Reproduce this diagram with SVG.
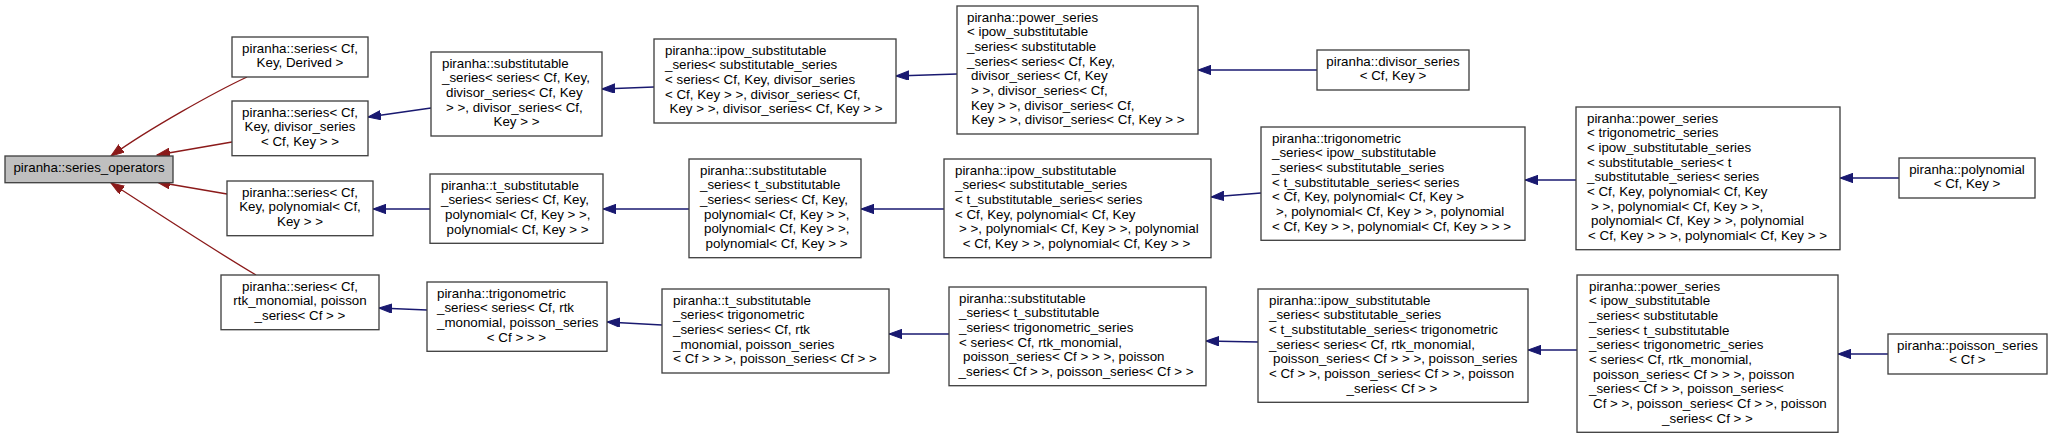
<svg xmlns="http://www.w3.org/2000/svg" width="2052" height="439" viewBox="0 0 2052 439">
<style>
rect.n{fill:#ffffff;stroke:#404040;stroke-width:1.33}
rect.g{fill:#bfbfbf;stroke:#404040;stroke-width:1.33}
text{font-family:"Liberation Sans",Arial,sans-serif;font-size:13.33px;fill:#000}
.c{text-anchor:middle}
.l{text-anchor:start}
path.r{fill:none;stroke:#8b1a1a;stroke-width:1.33}
path.b{fill:none;stroke:#191970;stroke-width:1.33}
</style>
<defs>
<marker id="ar" markerUnits="userSpaceOnUse" markerWidth="14" markerHeight="10" refX="13" refY="4.67" orient="auto"><path d="M0,0 L13,4.67 L0,9.33 Z" fill="#8b1a1a" stroke="#8b1a1a" stroke-width="1"/></marker>
<marker id="ab" markerUnits="userSpaceOnUse" markerWidth="14" markerHeight="10" refX="13" refY="4.67" orient="auto"><path d="M0,0 L13,4.67 L0,9.33 Z" fill="#191970" stroke="#191970" stroke-width="1"/></marker>
</defs>
<g id="edges">
<path class="r" marker-end="url(#ar)" d="M247,77 C215,92 150,128 111,156"/>
<path class="r" marker-end="url(#ar)" d="M232,142 L157,155"/>
<path class="r" marker-end="url(#ar)" d="M227,194 L157,182"/>
<path class="r" marker-end="url(#ar)" d="M256,275 C212,249 150,208 111,183"/>
<path class="b" marker-end="url(#ab)" d="M431,108 L368,117"/>
<path class="b" marker-end="url(#ab)" d="M654,87 L602,89"/>
<path class="b" marker-end="url(#ab)" d="M957,74 L896,76"/>
<path class="b" marker-end="url(#ab)" d="M1317,70 L1198,70"/>
<path class="b" marker-end="url(#ab)" d="M430,209 L373,209"/>
<path class="b" marker-end="url(#ab)" d="M689,209 L603,209"/>
<path class="b" marker-end="url(#ab)" d="M944,209 L861,209"/>
<path class="b" marker-end="url(#ab)" d="M1261,193 L1211,197"/>
<path class="b" marker-end="url(#ab)" d="M1576,180 L1525,180"/>
<path class="b" marker-end="url(#ab)" d="M1899,178 L1840,178"/>
<path class="b" marker-end="url(#ab)" d="M427,310 L379,308"/>
<path class="b" marker-end="url(#ab)" d="M662,325 L607,322"/>
<path class="b" marker-end="url(#ab)" d="M949,334 L889,334"/>
<path class="b" marker-end="url(#ab)" d="M1258,342 L1206,341"/>
<path class="b" marker-end="url(#ab)" d="M1577,350 L1528,350"/>
<path class="b" marker-end="url(#ab)" d="M1888,354 L1838,354"/>
</g>
<g id="series_operators">
<rect class="g" x="5" y="156" width="168" height="26.7"/>
<text class="c" x="89" y="171.7">piranha::series_operators</text>
</g>
<g id="series_derived">
<rect class="n" x="232" y="37" width="136" height="40"/>
<text class="c"><tspan x="300" y="52.7">piranha::series&lt; Cf,</tspan><tspan x="300" y="67.4">Key, Derived &gt;</tspan></text>
</g>
<g id="series_divisor">
<rect class="n" x="232" y="101" width="136" height="54.7"/>
<text class="c"><tspan x="300" y="116.7">piranha::series&lt; Cf,</tspan><tspan x="300" y="131.4">Key, divisor_series</tspan><tspan x="300" y="146">&lt; Cf, Key &gt; &gt;</tspan></text>
</g>
<g id="series_polynomial">
<rect class="n" x="227" y="181" width="146" height="54.7"/>
<text class="c"><tspan x="300" y="196.7">piranha::series&lt; Cf,</tspan><tspan x="300" y="211.4">Key, polynomial&lt; Cf,</tspan><tspan x="300" y="226">Key &gt; &gt;</tspan></text>
</g>
<g id="series_rtk">
<rect class="n" x="221" y="275" width="158" height="54.7"/>
<text class="c"><tspan x="300" y="290.7">piranha::series&lt; Cf,</tspan><tspan x="300" y="305.4">rtk_monomial, poisson</tspan><tspan x="300" y="320">_series&lt; Cf &gt; &gt;</tspan></text>
</g>
<g id="subst_divisor">
<rect class="n" x="431" y="52" width="171" height="84"/>
<text class="l"><tspan x="442" y="67.7">piranha::substitutable</tspan><tspan x="442" y="82.4">_series&lt; series&lt; Cf, Key,</tspan><tspan x="446" y="97">divisor_series&lt; Cf, Key</tspan><tspan x="446" y="111.7">&gt; &gt;, divisor_series&lt; Cf,</tspan></text>
<text class="c" x="516.5" y="126.4">Key &gt; &gt;</text>
</g>
<g id="ipow_divisor">
<rect class="n" x="654" y="39" width="242" height="84"/>
<text class="l"><tspan x="665" y="54.7">piranha::ipow_substitutable</tspan><tspan x="665" y="69.4">_series&lt; substitutable_series</tspan><tspan x="665" y="84">&lt; series&lt; Cf, Key, divisor_series</tspan><tspan x="665" y="98.7">&lt; Cf, Key &gt; &gt;, divisor_series&lt; Cf,</tspan></text>
<text class="c" x="776" y="113.4">Key &gt; &gt;, divisor_series&lt; Cf, Key &gt; &gt;</text>
</g>
<g id="power_divisor">
<rect class="n" x="957" y="6" width="241" height="128"/>
<text class="l"><tspan x="967" y="21.7">piranha::power_series</tspan><tspan x="967" y="36.4">&lt; ipow_substitutable</tspan><tspan x="967" y="51">_series&lt; substitutable</tspan><tspan x="967" y="65.7">_series&lt; series&lt; Cf, Key,</tspan><tspan x="971" y="80.4">divisor_series&lt; Cf, Key</tspan><tspan x="971" y="95">&gt; &gt;, divisor_series&lt; Cf,</tspan><tspan x="971" y="109.7">Key &gt; &gt;, divisor_series&lt; Cf,</tspan></text>
<text class="c" x="1078" y="124.4">Key &gt; &gt;, divisor_series&lt; Cf, Key &gt; &gt;</text>
</g>
<g id="divisor_series">
<rect class="n" x="1317" y="50" width="152" height="40"/>
<text class="c"><tspan x="1393" y="65.7">piranha::divisor_series</tspan><tspan x="1393" y="80.4">&lt; Cf, Key &gt;</tspan></text>
</g>
<g id="tsubst_polynomial">
<rect class="n" x="430" y="174" width="173" height="69.3"/>
<text class="l"><tspan x="441" y="189.7">piranha::t_substitutable</tspan><tspan x="441" y="204.4">_series&lt; series&lt; Cf, Key,</tspan><tspan x="445" y="219">polynomial&lt; Cf, Key &gt; &gt;,</tspan></text>
<text class="c" x="517.5" y="233.7">polynomial&lt; Cf, Key &gt; &gt;</text>
</g>
<g id="subst_tsubst_polynomial">
<rect class="n" x="689" y="159" width="172" height="98.7"/>
<text class="l"><tspan x="700" y="174.7">piranha::substitutable</tspan><tspan x="700" y="189.4">_series&lt; t_substitutable</tspan><tspan x="700" y="204">_series&lt; series&lt; Cf, Key,</tspan><tspan x="704" y="218.7">polynomial&lt; Cf, Key &gt; &gt;,</tspan><tspan x="704" y="233.4">polynomial&lt; Cf, Key &gt; &gt;,</tspan></text>
<text class="c" x="776.5" y="248">polynomial&lt; Cf, Key &gt; &gt;</text>
</g>
<g id="ipow_polynomial">
<rect class="n" x="944" y="159" width="267" height="98.7"/>
<text class="l"><tspan x="955" y="174.7">piranha::ipow_substitutable</tspan><tspan x="955" y="189.4">_series&lt; substitutable_series</tspan><tspan x="955" y="204">&lt; t_substitutable_series&lt; series</tspan><tspan x="955" y="218.7">&lt; Cf, Key, polynomial&lt; Cf, Key</tspan><tspan x="959" y="233.4">&gt; &gt;, polynomial&lt; Cf, Key &gt; &gt;, polynomial</tspan></text>
<text class="c" x="1076.5" y="248">&lt; Cf, Key &gt; &gt;, polynomial&lt; Cf, Key &gt; &gt;</text>
</g>
<g id="trig_polynomial">
<rect class="n" x="1261" y="127" width="264" height="113.3"/>
<text class="l"><tspan x="1272" y="142.7">piranha::trigonometric</tspan><tspan x="1272" y="157.4">_series&lt; ipow_substitutable</tspan><tspan x="1272" y="172">_series&lt; substitutable_series</tspan><tspan x="1272" y="186.7">&lt; t_substitutable_series&lt; series</tspan><tspan x="1272" y="201.4">&lt; Cf, Key, polynomial&lt; Cf, Key &gt;</tspan><tspan x="1276" y="216">&gt;, polynomial&lt; Cf, Key &gt; &gt;, polynomial</tspan><tspan x="1272" y="230.7">&lt; Cf, Key &gt; &gt;, polynomial&lt; Cf, Key &gt; &gt; &gt;</tspan></text>
</g>
<g id="power_polynomial">
<rect class="n" x="1576" y="107" width="264" height="142.7"/>
<text class="l"><tspan x="1587" y="122.7">piranha::power_series</tspan><tspan x="1587" y="137.4">&lt; trigonometric_series</tspan><tspan x="1587" y="152">&lt; ipow_substitutable_series</tspan><tspan x="1587" y="166.7">&lt; substitutable_series&lt; t</tspan><tspan x="1587" y="181.4">_substitutable_series&lt; series</tspan><tspan x="1587" y="196">&lt; Cf, Key, polynomial&lt; Cf, Key</tspan><tspan x="1591" y="210.7">&gt; &gt;, polynomial&lt; Cf, Key &gt; &gt;,</tspan><tspan x="1591" y="225.4">polynomial&lt; Cf, Key &gt; &gt;, polynomial</tspan></text>
<text class="c" x="1707.5" y="240">&lt; Cf, Key &gt; &gt; &gt;, polynomial&lt; Cf, Key &gt; &gt;</text>
</g>
<g id="polynomial">
<rect class="n" x="1899" y="158" width="136" height="40"/>
<text class="c"><tspan x="1967" y="173.7">piranha::polynomial</tspan><tspan x="1967" y="188.4">&lt; Cf, Key &gt;</tspan></text>
</g>
<g id="trig_rtk">
<rect class="n" x="427" y="282" width="180" height="69.3"/>
<text class="l"><tspan x="437" y="297.7">piranha::trigonometric</tspan><tspan x="437" y="312.4">_series&lt; series&lt; Cf, rtk</tspan><tspan x="437" y="327">_monomial, poisson_series</tspan></text>
<text class="c" x="516.5" y="341.7">&lt; Cf &gt; &gt; &gt;</text>
</g>
<g id="tsubst_trig">
<rect class="n" x="662" y="289" width="227" height="84"/>
<text class="l"><tspan x="673" y="304.7">piranha::t_substitutable</tspan><tspan x="673" y="319.4">_series&lt; trigonometric</tspan><tspan x="673" y="334">_series&lt; series&lt; Cf, rtk</tspan><tspan x="673" y="348.7">_monomial, poisson_series</tspan></text>
<text class="c" x="775" y="363.4">&lt; Cf &gt; &gt; &gt;, poisson_series&lt; Cf &gt; &gt;</text>
</g>
<g id="subst_tsubst_trig">
<rect class="n" x="949" y="287" width="257" height="98.7"/>
<text class="l"><tspan x="959" y="302.7">piranha::substitutable</tspan><tspan x="959" y="317.4">_series&lt; t_substitutable</tspan><tspan x="959" y="332">_series&lt; trigonometric_series</tspan><tspan x="959" y="346.7">&lt; series&lt; Cf, rtk_monomial,</tspan><tspan x="963" y="361.4">poisson_series&lt; Cf &gt; &gt; &gt;, poisson</tspan></text>
<text class="c" x="1076" y="376">_series&lt; Cf &gt; &gt;, poisson_series&lt; Cf &gt; &gt;</text>
</g>
<g id="ipow_trig">
<rect class="n" x="1258" y="289" width="270" height="113.3"/>
<text class="l"><tspan x="1269" y="304.7">piranha::ipow_substitutable</tspan><tspan x="1269" y="319.4">_series&lt; substitutable_series</tspan><tspan x="1269" y="334">&lt; t_substitutable_series&lt; trigonometric</tspan><tspan x="1269" y="348.7">_series&lt; series&lt; Cf, rtk_monomial,</tspan><tspan x="1273" y="363.4">poisson_series&lt; Cf &gt; &gt; &gt;, poisson_series</tspan><tspan x="1269" y="378">&lt; Cf &gt; &gt;, poisson_series&lt; Cf &gt; &gt;, poisson</tspan></text>
<text class="c" x="1392" y="392.7">_series&lt; Cf &gt; &gt;</text>
</g>
<g id="power_trig">
<rect class="n" x="1577" y="275" width="261" height="157.3"/>
<text class="l"><tspan x="1589" y="290.7">piranha::power_series</tspan><tspan x="1589" y="305.4">&lt; ipow_substitutable</tspan><tspan x="1589" y="320">_series&lt; substitutable</tspan><tspan x="1589" y="334.7">_series&lt; t_substitutable</tspan><tspan x="1589" y="349.4">_series&lt; trigonometric_series</tspan><tspan x="1589" y="364">&lt; series&lt; Cf, rtk_monomial,</tspan><tspan x="1593" y="378.7">poisson_series&lt; Cf &gt; &gt; &gt;, poisson</tspan><tspan x="1589" y="393.4">_series&lt; Cf &gt; &gt;, poisson_series&lt;</tspan><tspan x="1593" y="408">Cf &gt; &gt;, poisson_series&lt; Cf &gt; &gt;, poisson</tspan></text>
<text class="c" x="1707.5" y="422.7">_series&lt; Cf &gt; &gt;</text>
</g>
<g id="poisson_series">
<rect class="n" x="1888" y="334" width="159" height="40"/>
<text class="c"><tspan x="1967.5" y="349.7">piranha::poisson_series</tspan><tspan x="1967.5" y="364.4">&lt; Cf &gt;</tspan></text>
</g>
</svg>
